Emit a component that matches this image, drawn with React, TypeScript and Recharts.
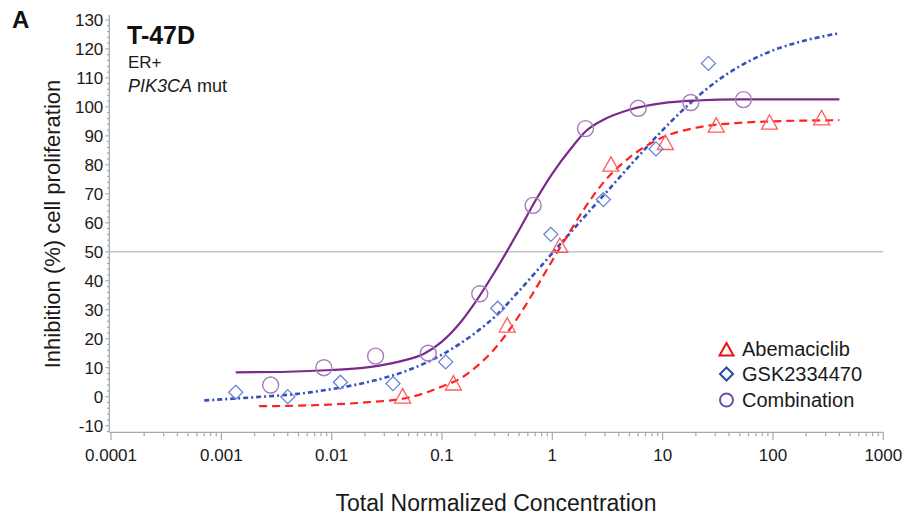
import React from 'react';
import {
  ComposedChart,
  Line,
  Scatter,
  XAxis,
  YAxis,
  ReferenceLine,
} from 'recharts';

// measured points (total normalized concentration, % inhibition)
const abemaciclibX = [0.044, 0.127, 0.39, 1.17, 3.4, 10.6, 30.6, 93, 276];
const abemaciclibY = [0, 4.5, 24.5, 52, 80, 87.5, 93.5, 94.5, 96];

const gskX = [0.00135, 0.004, 0.012, 0.036, 0.108, 0.32, 0.97, 2.9, 8.7, 26];
const gskY = [1.5, 0, 5, 4.5, 12, 30.5, 56, 68, 85.5, 115];

const comboX = [0.0028, 0.0085, 0.025, 0.075, 0.22, 0.67, 2.0, 6.0, 18, 54];
const comboY = [4, 10, 14, 15, 35.5, 66, 92.5, 99.5, 101.5, 102.5];

// fitted curves
const abemaciclibFitX = [0.0022, 0.005, 0.01, 0.02, 0.05, 0.1, 0.15, 0.2, 0.3, 0.5, 0.7, 1, 1.5, 2, 3, 5, 10, 20, 50, 100, 400];
const abemaciclibFitY = [-3.3, -3.1, -2.7, -2, -0.3, 3.5, 6.5, 10, 16.5, 28, 37, 47, 58, 65.5, 74.5, 82.5, 89.5, 92.8, 94.5, 95, 95.4];

const gskFitX = [0.0007, 0.002, 0.005, 0.01, 0.02, 0.05, 0.1, 0.2, 0.3, 0.5, 1, 2, 3, 5, 10, 20, 30, 50, 100, 200, 400];
const gskFitY = [-1.3, -0.2, 1, 2.6, 4.8, 9.2, 14.5, 22, 27.5, 36.5, 49.5, 62.5, 70, 79.5, 92, 103, 108.5, 114, 119.5, 123, 125.4];

const comboFitX = [0.00135, 0.004, 0.01, 0.02, 0.04, 0.07, 0.1, 0.15, 0.2, 0.3, 0.5, 0.7, 1, 1.5, 2, 3, 5, 10, 20, 50, 400];
const comboFitY = [8.4, 8.6, 9.2, 10, 12, 15, 19, 26, 32.5, 43, 57.5, 67.5, 77, 86, 91.5, 95.8, 99, 101.3, 102.2, 102.6, 102.6];

const xMajorTicks = [0.0001, 0.001, 0.01, 0.1, 1, 10, 100, 1000];
const yMajorTicks = [-10, 0, 10, 20, 30, 40, 50, 60, 70, 80, 90, 100, 110, 120, 130];

const zip = (xs: number[], ys: number[]) => xs.map((x, i) => ({ x, y: ys[i] }));

const xTicks: number[] = [];
xMajorTicks.forEach((t, i) => {
  xTicks.push(t);
  if (i < xMajorTicks.length - 1) {
    for (let m = 2; m <= 9; m++) xTicks.push(+(t * m).toPrecision(3));
  }
});
const yTicks: number[] = [-12];
yMajorTicks.forEach((t, i) => {
  yTicks.push(t);
  if (i < yMajorTicks.length - 1) {
    for (let m = 2; m < 10; m += 2) yTicks.push(t + m);
  }
});

const FONT = '"Liberation Sans", Arial, sans-serif';
const RED = '#ff2222';
const BLUE = '#3550bb';
const PURPLE = '#7a2a8c';

const isMajorX = (v: number) => {
  const l = Math.log10(v);
  return Math.abs(l - Math.round(l)) < 1e-6;
};

const XTick = (props: any) => {
  const { x, y, payload } = props;
  const major = isMajorX(payload.value);
  return (
    <g>
      <line x1={x} x2={x} y1={y} y2={y + (major ? 8 : 4)} stroke="#a8a8a8" strokeWidth={1.2} />
      {major && (
        <text x={x} y={y + 29} textAnchor="middle" fontSize={17} fill="#1a1a1a" fontFamily={FONT}>
          {String(payload.value)}
        </text>
      )}
    </g>
  );
};

const YTick = (props: any) => {
  const { x, y, payload } = props;
  const major = yMajorTicks.includes(payload.value);
  return (
    <g>
      <line x1={x - (major ? 4 : 2.5)} x2={x} y1={y} y2={y} stroke="#a8a8a8" strokeWidth={1.1} />
      {major && (
        <text x={x - 6} y={y} dy={6} textAnchor="end" fontSize={17} fill="#1a1a1a" fontFamily={FONT}>
          {payload.value}
        </text>
      )}
    </g>
  );
};

const Triangle = ({ cx, cy, stroke = '#ff5c5c', r = 8, w = 1.3 }: any) => (
  <polygon
    points={`${cx},${cy - r} ${cx + r},${cy + r * 0.8} ${cx - r},${cy + r * 0.8}`}
    fill="none"
    stroke={stroke}
    strokeWidth={w}
  />
);

const Diamond = ({ cx, cy, stroke = '#6a80d4', r = 7, w = 1.3 }: any) => (
  <polygon
    points={`${cx},${cy - r} ${cx + r},${cy} ${cx},${cy + r} ${cx - r},${cy}`}
    fill="none"
    stroke={stroke}
    strokeWidth={w}
  />
);

const Ring = ({ cx, cy, stroke = '#a77cba', r = 8, w = 1.4 }: any) => (
  <circle cx={cx} cy={cy} r={r} fill="none" stroke={stroke} strokeWidth={w} />
);

const legendRows = [
  { name: 'Abemaciclib', y: 349, icon: <Triangle cx={726.5} cy={350} r={7} stroke="#ee1111" w={2} /> },
  { name: 'GSK2334470', y: 374, icon: <Diamond cx={726.5} cy={374} r={6.5} stroke="#2a4aaa" w={2} /> },
  { name: 'Combination', y: 400, icon: <Ring cx={726.5} cy={400} r={6.5} stroke="#6b4bb0" w={2} /> },
];

export default function App() {
  return (
    <div style={{ position: 'absolute', left: 0, top: 0, width: 906, height: 519, background: '#fff' }}>
      <ComposedChart
        width={906}
        height={519}
        margin={{ top: 15, right: 22.7, bottom: 56.7, left: 0 }}
      >
        <XAxis
          dataKey="x"
          type="number"
          scale="log"
          domain={[0.0000965, 1000]}
          allowDataOverflow
          ticks={xTicks}
          interval={0}
          tickSize={0}
          tickMargin={0}
          tickLine={false}
          tick={<XTick />}
          axisLine={{ stroke: '#a8a8a8', strokeWidth: 1.3 }}
          height={30}
        />
        <YAxis
          dataKey="y"
          type="number"
          domain={[-12.3, 131.7]}
          allowDataOverflow
          ticks={yTicks}
          interval={0}
          tickSize={0}
          tickMargin={0}
          tickLine={false}
          tick={<YTick />}
          axisLine={{ stroke: '#a8a8a8', strokeWidth: 1.3 }}
          width={109.3}
        />
        <ReferenceLine y={50} stroke="#c4c4c4" strokeWidth={1.5} />
        <Line
          data={zip(gskFitX, gskFitY)}
          dataKey="y"
          type="monotone"
          stroke={BLUE}
          strokeWidth={2.6}
          strokeDasharray="5 3 2 3"
          dot={false}
          isAnimationActive={false}
        />
        <Line
          data={zip(abemaciclibFitX, abemaciclibFitY)}
          dataKey="y"
          type="monotone"
          stroke={RED}
          strokeWidth={2.2}
          strokeDasharray="8 5"
          dot={false}
          isAnimationActive={false}
        />
        <Line
          data={zip(comboFitX, comboFitY)}
          dataKey="y"
          type="monotone"
          stroke={PURPLE}
          strokeWidth={2.2}
          dot={false}
          isAnimationActive={false}
        />
        <Scatter
          data={zip(abemaciclibX, abemaciclibY)}
          dataKey="y"
          shape={(p: any) => <Triangle cx={p.cx} cy={p.cy} />}
          isAnimationActive={false}
        />
        <Scatter
          data={zip(gskX, gskY)}
          dataKey="y"
          shape={(p: any) => <Diamond cx={p.cx} cy={p.cy} />}
          isAnimationActive={false}
        />
        <Scatter
          data={zip(comboX, comboY)}
          dataKey="y"
          shape={(p: any) => <Ring cx={p.cx} cy={p.cy} />}
          isAnimationActive={false}
        />
      </ComposedChart>
      <svg
        width={906}
        height={519}
        style={{ position: 'absolute', left: 0, top: 0, pointerEvents: 'none' }}
        fontFamily={FONT}
      >
        <text x={12} y={28} fontSize={24} fontWeight="bold" fill="#111">A</text>
        <text x={127} y={44} fontSize={25} fontWeight="bold" fill="#111">T-47D</text>
        <text x={128} y={68} fontSize={17} fill="#1a1a1a">ER+</text>
        <text x={128} y={92} fontSize={18} fill="#1a1a1a">
          <tspan fontStyle="italic">PIK3CA</tspan> mut
        </text>
        <text
          x={52}
          y={224}
          transform="rotate(-90 52 224)"
          textAnchor="middle"
          dy={8}
          fontSize={22}
          fill="#1a1a1a"
        >
          Inhibition (%) cell proliferation
        </text>
        <text x={496} y={511} textAnchor="middle" fontSize={23} fill="#1a1a1a">
          Total Normalized Concentration
        </text>
        {legendRows.map((r) => (
          <g key={r.name}>
            {r.icon}
            <text x={742} y={r.y + 7} fontSize={20} fill="#1a1a1a">{r.name}</text>
          </g>
        ))}
      </svg>
    </div>
  );
}
